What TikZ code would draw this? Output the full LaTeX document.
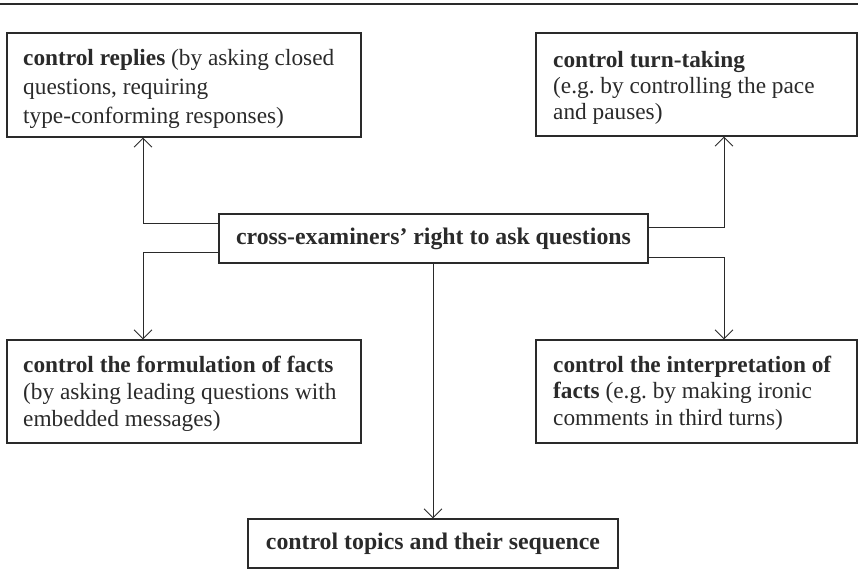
\documentclass[tikz,border=0pt]{standalone}
\usepackage{fontspec}
\setmainfont{Liberation Serif}
\usetikzlibrary{arrows.meta}
\definecolor{ink}{HTML}{2A2A2A}
\newcommand{\firstup}{\rule{0pt}{18pt}}
\begin{document}
\begin{tikzpicture}[x=1pt,y=1pt,
  frame/.style={draw=ink,line width=1.1pt,inner sep=0pt,minimum width=#1},
  boxtext/.style={anchor=north west,inner sep=0pt,align=left,text=ink,
    font=\fontsize{23.3}{#1}\selectfont},
  midbox/.style={draw=ink,line width=1.1pt,inner sep=0pt,minimum height=49pt,
    minimum width=#1,text=ink,font=\fontsize{23.8}{28}\selectfont\bfseries},
  conn/.style={draw=ink,line width=0.9pt,-{Straight Barb[length=9pt,width=18pt,line width=0.9pt]}}]
\useasboundingbox (0,0) rectangle (858,569);
\draw[ink,line width=1.1pt] (0,565) coordinate (l1) -- (858,565) coordinate (l2);
% boxes
\node[frame=354pt,minimum height=104pt] (TL) at (184,484) {};
\node[frame=321pt,minimum height=103pt] (TR) at (696.5,484.5) {};
\node[frame=354pt,minimum height=103pt] (BL) at (184,177.5) {};
\node[frame=321pt,minimum height=103pt] (BR) at (696.5,177.5) {};
% box texts
\node[boxtext=29pt] (TLt) at (23,522)
  {\firstup\textbf{control replies} (by asking closed\\questions, requiring\\type-conforming responses)};
\node[boxtext=26pt] (TRt) at (553,520)
  {\firstup\textbf{control turn-taking}\\(e.g.\ by controlling the pace\\and pauses)};
\node[boxtext=27pt] (BLt) at (23,215)
  {\firstup\textbf{control the formulation of facts}\\(by asking leading questions with\\embedded messages)};
\node[boxtext=26.5pt] (BRt) at (553,215)
  {\firstup\textbf{control the interpretation of}\\\textbf{facts} (e.g.\ by making ironic\\comments in third turns)};
\node[midbox=429pt] (C) at (433.5,330.5) {cross-examiners’ right to ask questions};
\node[midbox=370pt] (B) at (433,25.5) {control topics and their sequence};
% connectors
\draw[conn] (C.west |- 0,346) -| (TL.south -| 143,0);
\draw[conn] (C.west |- 0,317) -| (BL.north -| 143,0);
\draw[conn] (C.east |- 0,342) -| (TR.south -| 724,0);
\draw[conn] (C.east |- 0,312) -| (BR.north -| 724,0);
\draw[conn] (C.south -| 433,0) -- (B.north -| 433,0);
\end{tikzpicture}
\end{document}
